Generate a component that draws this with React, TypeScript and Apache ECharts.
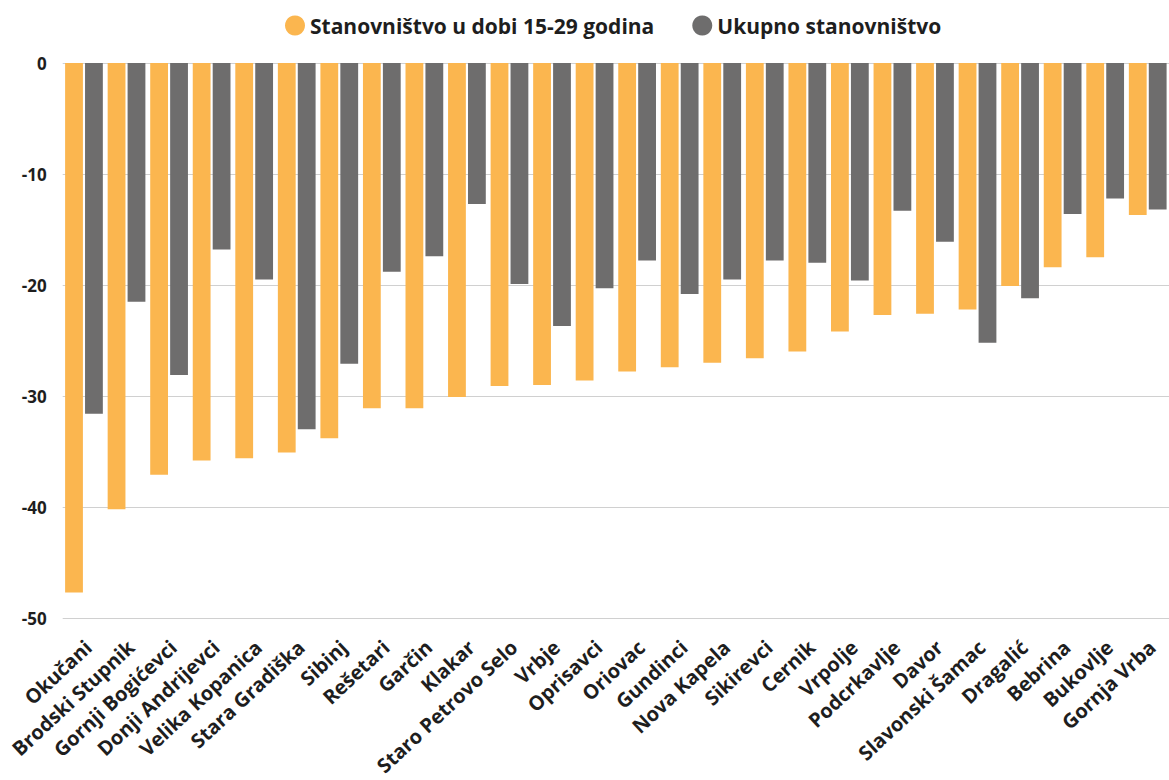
import React, { useEffect, useRef } from "react";
import * as echarts from "echarts";

const categories = [
  "Okučani", "Brodski Stupnik", "Gornji Bogićevci", "Donji Andrijevci", "Velika Kopanica",
  "Stara Gradiška", "Sibinj", "Rešetari", "Garčin", "Klakar", "Staro Petrovo Selo", "Vrbje",
  "Oprisavci", "Oriovac", "Gundinci", "Nova Kapela", "Sikirevci", "Cernik", "Vrpolje",
  "Podcrkavlje", "Davor", "Slavonski Šamac", "Dragalić", "Bebrina", "Bukovlje", "Gornja Vrba",
];

const youth = [
  -47.7, -40.2, -37.1, -35.8, -35.6, -35.1, -33.8, -31.1, -31.1, -30.1, -29.1, -29.0, -28.6,
  -27.8, -27.4, -27.0, -26.6, -26.0, -24.2, -22.7, -22.6, -22.2, -20.1, -18.4, -17.5, -13.7,
];

const total = [
  -31.6, -21.5, -28.1, -16.8, -19.5, -33.0, -27.1, -18.8, -17.4, -12.7, -19.9, -23.7, -20.3,
  -17.8, -20.8, -19.5, -17.8, -18.0, -19.6, -13.3, -16.1, -25.2, -21.2, -13.6, -12.2, -13.2,
];

const seriesNames = ["Stanovništvo u dobi 15-29 godina", "Ukupno stanovništvo"];
const yTicks = { min: -50, max: 0, interval: 10 };

const FONT = "'Open Sans', 'Noto Sans', sans-serif";

export default function App() {
  const ref = useRef<HTMLDivElement>(null);
  useEffect(() => {
    if (!ref.current) return;
    const chart = echarts.init(ref.current, undefined, { renderer: "svg" });
    chart.setOption({
      animation: false,
      backgroundColor: "#ffffff",
      legend: {
        top: 10,
        left: 280,
        itemWidth: 20,
        itemHeight: 20,
        itemGap: 38,
        icon: "circle",
        textStyle: {
          fontFamily: FONT,
          fontWeight: "bold",
          fontSize: 21,
          color: "#1e1e1e",
        },
        data: seriesNames,
      },
      grid: { left: 62.7, top: 63, width: 1111, height: 555, containLabel: false },
      xAxis: {
        type: "category",
        data: categories,
        position: "bottom",
        axisLine: { show: false },
        axisTick: { show: false },
        axisLabel: {
          interval: 0,
          rotate: 43,
          margin: 30,
          padding: [0, -6, 0, 0],
          fontFamily: FONT,
          fontWeight: "bold",
          fontSize: 20,
          color: "#1e1e1e",
        },
      },
      yAxis: {
        type: "value",
        min: yTicks.min,
        max: yTicks.max,
        interval: yTicks.interval,
        axisLine: { show: false },
        axisTick: { show: false },
        splitLine: { lineStyle: { color: "#d0d0d0", width: 1.2 } },
        axisLabel: {
          margin: 16,
          fontFamily: FONT,
          fontWeight: "bold",
          fontSize: 17,
          color: "#1e1e1e",
        },
      },
      series: [
        {
          name: seriesNames[0],
          type: "bar",
          data: youth,
          barWidth: 17.8,
          barGap: "12%",
          itemStyle: { color: "#FBB64F" },
        },
        {
          name: seriesNames[1],
          type: "bar",
          data: total,
          barWidth: 17.8,
          barGap: "12%",
          itemStyle: { color: "#6E6D6D" },
        },
      ],
    });
    return () => chart.dispose();
  }, []);
  return (
    <div
      ref={ref}
      style={{ position: "fixed", left: 0, top: 0, width: 1169, height: 780 }}
    />
  );
}
